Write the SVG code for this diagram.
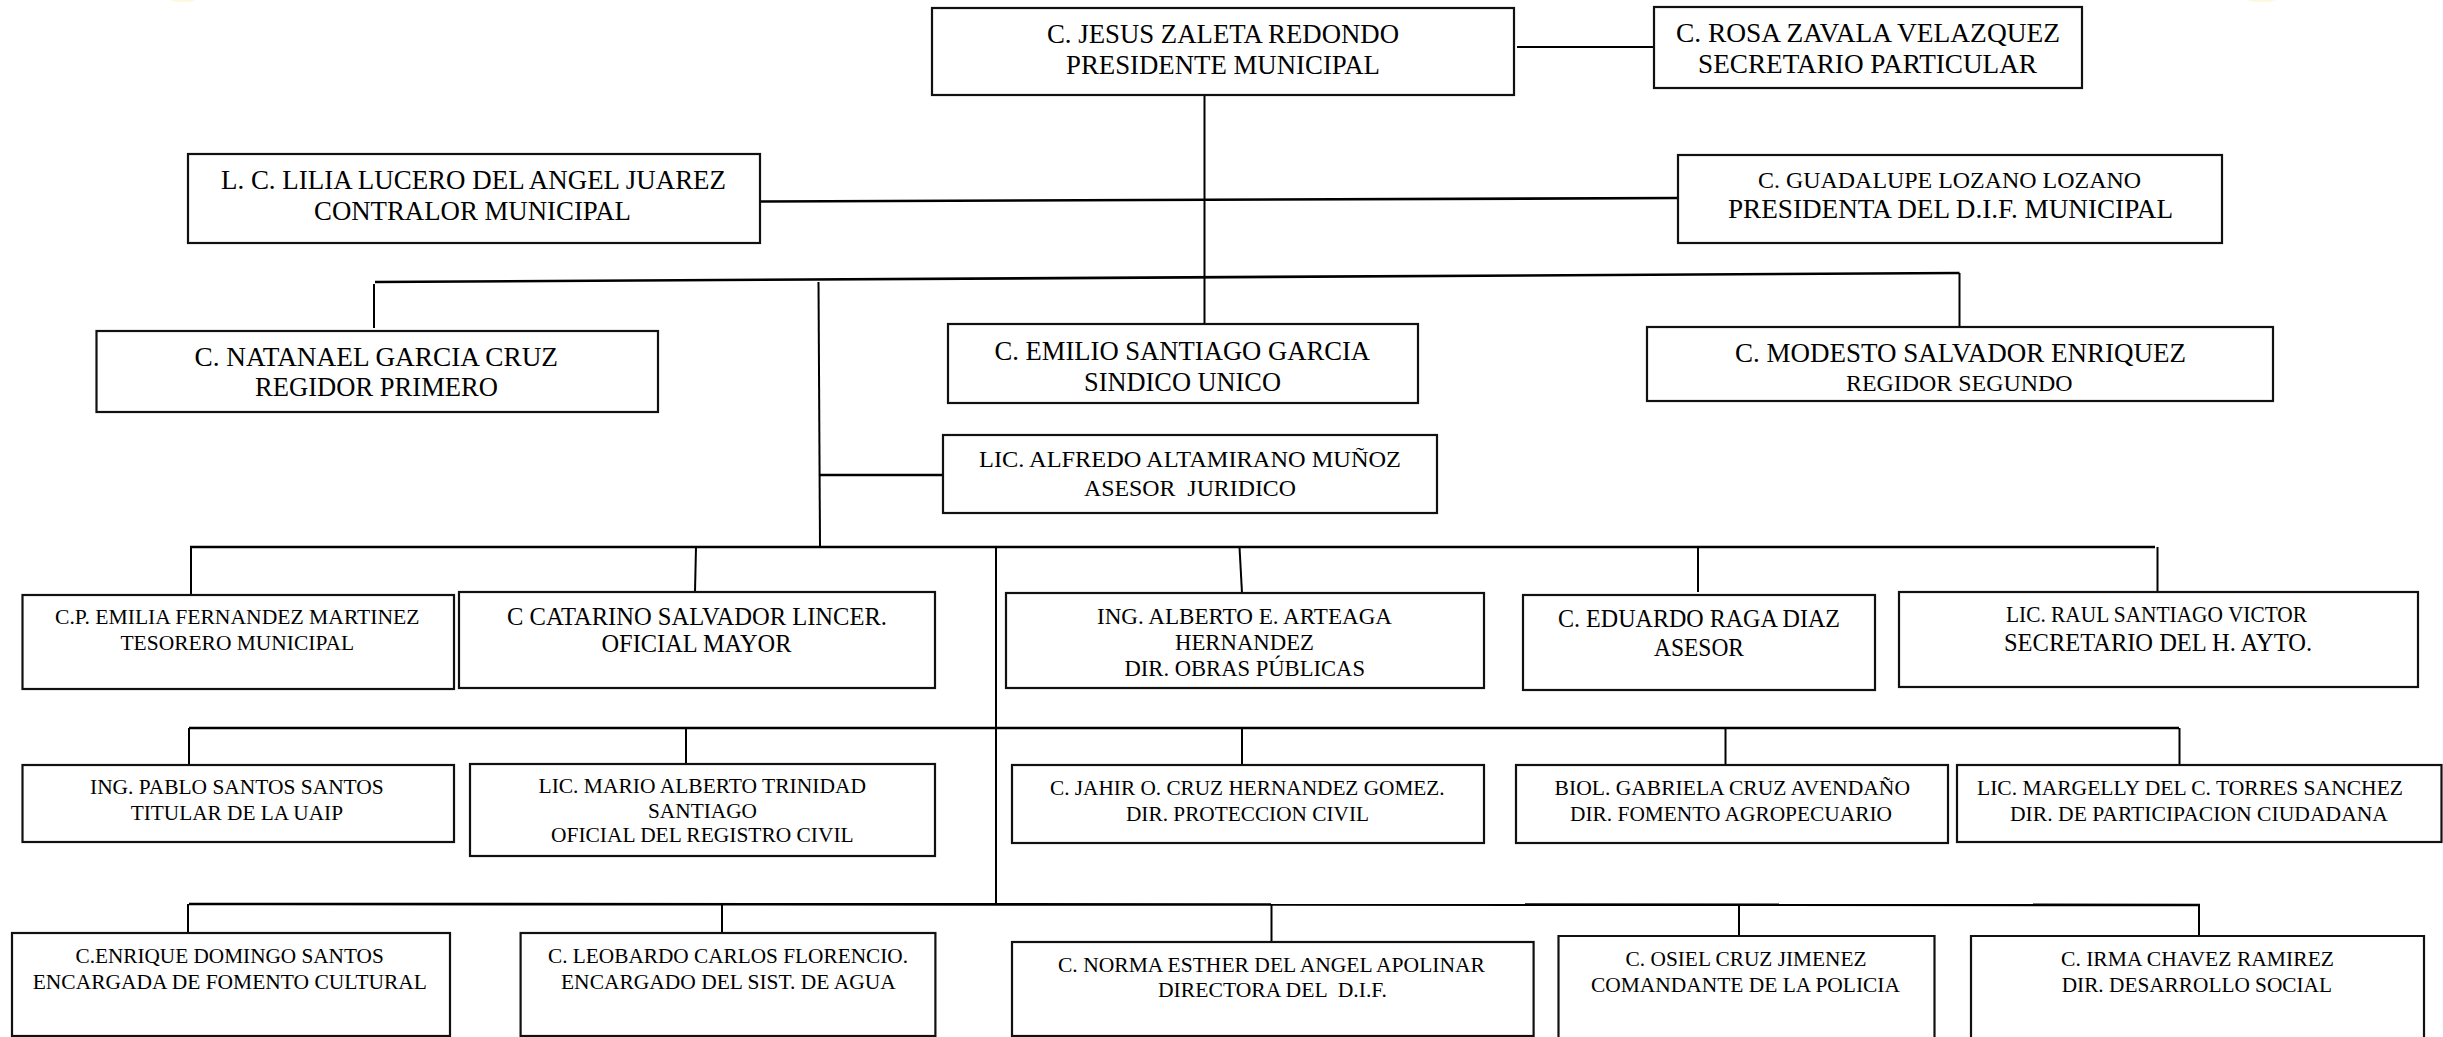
<svg xmlns="http://www.w3.org/2000/svg" width="2443" height="1037" viewBox="0 0 2443 1037">
<style>
text{font-family:"Liberation Serif","Times New Roman",serif;fill:#000;lengthAdjust:spacingAndGlyphs}
.b{fill:#fff;stroke:#111;stroke-width:2.2}
.l{fill:none;stroke:#000;stroke-width:2}
.t{stroke-width:2.6}
.f26{font-size:26.5px}.f25{font-size:25px}.f24{font-size:24px}.f23{font-size:23px}.f22{font-size:21.5px}
.g{fill:#fbf6cf;opacity:.7}
</style>
<rect width="2443" height="1037" fill="#fff"/>
<ellipse class="g" cx="183" cy="0" rx="12" ry="2"/>
<ellipse class="g" cx="2262" cy="0" rx="14" ry="2"/>
<g id="connectors">
<path class="l" d="M1204.500 95V324"/>
<path class="l" d="M1517 47H1654"/>
<path class="l t" d="M760 201.500L1678 198"/>
<path class="l t" d="M375 282L1959.500 273"/>
<path class="l" d="M374 284V328"/>
<path class="l" d="M1959.500 273V327"/>
<path class="l" d="M818.500 282L820 546"/>
<path class="l t" d="M820 475H945"/>
<path class="l t" d="M190 547H2155"/>
<path class="l" d="M191 547V595"/>
<path class="l" d="M696 547L695 592"/>
<path class="l" d="M996 547V904"/>
<path class="l" d="M1239.500 547L1242 593"/>
<path class="l" d="M1698 547V592"/>
<path class="l" d="M2157.500 547V592"/>
<path class="l t" d="M189 728H2179"/>
<path class="l" d="M189 728V765"/>
<path class="l" d="M686 728V764"/>
<path class="l" d="M1242 728V765"/>
<path class="l" d="M1725.500 728V765"/>
<path class="l" d="M2179.500 728V765"/>
<path class="l t" d="M189 904L2200 905"/>
<path class="l" d="M188 904V933"/>
<path class="l" d="M722 904V933"/>
<path class="l" d="M1271.500 905V942"/>
<path class="l" d="M1739 905V936"/>
<path class="l" d="M2199 905V936"/>
</g>
<g id="n-presidente"><rect class="b" x="932" y="8" width="582" height="87"/>
<text class="f26" x="1047" y="43" textLength="352" lengthAdjust="spacingAndGlyphs">C. JESUS ZALETA REDONDO</text>
<text class="f26" x="1066" y="74" textLength="314" lengthAdjust="spacingAndGlyphs">PRESIDENTE MUNICIPAL</text></g>
<g id="n-secretario-particular"><rect class="b" x="1654" y="7" width="428" height="81"/>
<text class="f26" x="1676" y="42" textLength="384" lengthAdjust="spacingAndGlyphs">C. ROSA ZAVALA VELAZQUEZ</text>
<text class="f26" x="1698" y="73" textLength="339" lengthAdjust="spacingAndGlyphs">SECRETARIO PARTICULAR</text></g>
<g id="n-contralor"><rect class="b" x="188" y="154" width="572" height="89"/>
<text class="f26" x="221" y="189" textLength="505" lengthAdjust="spacingAndGlyphs">L. C. LILIA LUCERO DEL ANGEL JUAREZ</text>
<text class="f26" x="314" y="220" textLength="317" lengthAdjust="spacingAndGlyphs">CONTRALOR MUNICIPAL</text></g>
<g id="n-dif-presidenta"><rect class="b" x="1678" y="155" width="544" height="88"/>
<text class="f24" x="1758" y="188" textLength="383" lengthAdjust="spacingAndGlyphs">C. GUADALUPE LOZANO LOZANO</text>
<text class="f26" x="1728" y="218" textLength="445" lengthAdjust="spacingAndGlyphs">PRESIDENTA DEL D.I.F. MUNICIPAL</text></g>
<g id="n-regidor-primero"><rect class="b" x="96.500" y="331" width="561.500" height="81"/>
<text class="f26" x="194.500" y="366" textLength="363.500" lengthAdjust="spacingAndGlyphs">C. NATANAEL GARCIA CRUZ</text>
<text class="f26" x="255" y="396" textLength="243" lengthAdjust="spacingAndGlyphs">REGIDOR PRIMERO</text></g>
<g id="n-sindico"><rect class="b" x="948" y="324" width="470" height="79"/>
<text class="f26" x="994.500" y="360" textLength="375.500" lengthAdjust="spacingAndGlyphs">C. EMILIO SANTIAGO GARCIA</text>
<text class="f26" x="1084" y="391" textLength="197" lengthAdjust="spacingAndGlyphs">SINDICO UNICO</text></g>
<g id="n-regidor-segundo"><rect class="b" x="1647" y="327" width="626" height="74"/>
<text class="f26" x="1735" y="362" textLength="451" lengthAdjust="spacingAndGlyphs">C. MODESTO SALVADOR ENRIQUEZ</text>
<text class="f24" x="1846" y="391" textLength="226.500" lengthAdjust="spacingAndGlyphs">REGIDOR SEGUNDO</text></g>
<g id="n-asesor-juridico"><rect class="b" x="943" y="435" width="494" height="78"/>
<text class="f24" x="979" y="467" textLength="422" lengthAdjust="spacingAndGlyphs">LIC. ALFREDO ALTAMIRANO MUÑOZ</text>
<text class="f24" x="1084" y="496" textLength="212" lengthAdjust="spacingAndGlyphs" xml:space="preserve">ASESOR  JURIDICO</text></g>
<g id="n-tesorero"><rect class="b" x="22.500" y="595" width="431.500" height="94"/>
<text class="f22" x="55" y="624" textLength="364.500" lengthAdjust="spacingAndGlyphs">C.P. EMILIA FERNANDEZ MARTINEZ</text>
<text class="f22" x="120.500" y="650" textLength="233.500" lengthAdjust="spacingAndGlyphs">TESORERO MUNICIPAL</text></g>
<g id="n-oficial-mayor"><rect class="b" x="459" y="592" width="476" height="96"/>
<text class="f25" x="507" y="625" textLength="380" lengthAdjust="spacingAndGlyphs">C CATARINO SALVADOR LINCER.</text>
<text class="f25" x="601.500" y="652" textLength="190" lengthAdjust="spacingAndGlyphs">OFICIAL MAYOR</text></g>
<g id="n-obras-publicas"><rect class="b" x="1006" y="593" width="478" height="95"/>
<text class="f23" x="1097" y="624" textLength="295" lengthAdjust="spacingAndGlyphs">ING. ALBERTO E. ARTEAGA</text>
<text class="f23" x="1175" y="650" textLength="139" lengthAdjust="spacingAndGlyphs">HERNANDEZ</text>
<text class="f23" x="1124.500" y="676" textLength="240.500" lengthAdjust="spacingAndGlyphs">DIR. OBRAS PÚBLICAS</text></g>
<g id="n-asesor"><rect class="b" x="1523" y="595" width="352" height="95"/>
<text class="f25" x="1558" y="627" textLength="282" lengthAdjust="spacingAndGlyphs">C. EDUARDO RAGA DIAZ</text>
<text class="f25" x="1654" y="656" textLength="90" lengthAdjust="spacingAndGlyphs">ASESOR</text></g>
<g id="n-secretario-ayto"><rect class="b" x="1899" y="592" width="519" height="95"/>
<text class="f23" x="2006" y="622" textLength="301" lengthAdjust="spacingAndGlyphs">LIC. RAUL SANTIAGO VICTOR</text>
<text class="f25" x="2004" y="651" textLength="308" lengthAdjust="spacingAndGlyphs">SECRETARIO DEL H. AYTO.</text></g>
<g id="n-uaip"><rect class="b" x="22.500" y="765" width="431.500" height="77"/>
<text class="f22" x="90" y="794" textLength="293.700" lengthAdjust="spacingAndGlyphs">ING. PABLO SANTOS SANTOS</text>
<text class="f22" x="130.700" y="820" textLength="212.300" lengthAdjust="spacingAndGlyphs">TITULAR DE LA UAIP</text></g>
<g id="n-registro-civil"><rect class="b" x="470" y="764" width="465" height="92"/>
<text class="f22" x="538.500" y="793" textLength="327.500" lengthAdjust="spacingAndGlyphs">LIC. MARIO ALBERTO TRINIDAD</text>
<text class="f22" x="648" y="818" textLength="109" lengthAdjust="spacingAndGlyphs">SANTIAGO</text>
<text class="f22" x="551" y="842" textLength="302.700" lengthAdjust="spacingAndGlyphs">OFICIAL DEL REGISTRO CIVIL</text></g>
<g id="n-proteccion-civil"><rect class="b" x="1012" y="765" width="472" height="78"/>
<text class="f22" x="1050" y="795" textLength="394.600" lengthAdjust="spacingAndGlyphs">C. JAHIR O. CRUZ HERNANDEZ GOMEZ.</text>
<text class="f22" x="1126" y="821" textLength="243" lengthAdjust="spacingAndGlyphs">DIR. PROTECCION CIVIL</text></g>
<g id="n-fomento-agropecuario"><rect class="b" x="1516" y="765" width="432" height="78"/>
<text class="f22" x="1554.600" y="795" textLength="355.400" lengthAdjust="spacingAndGlyphs">BIOL. GABRIELA CRUZ AVENDAÑO</text>
<text class="f22" x="1570" y="821" textLength="322" lengthAdjust="spacingAndGlyphs">DIR. FOMENTO AGROPECUARIO</text></g>
<g id="n-participacion-ciudadana"><rect class="b" x="1957" y="765" width="484.500" height="77"/>
<text class="f22" x="1977" y="795" textLength="426" lengthAdjust="spacingAndGlyphs">LIC. MARGELLY DEL C. TORRES SANCHEZ</text>
<text class="f22" x="2010" y="821" textLength="378" lengthAdjust="spacingAndGlyphs">DIR. DE PARTICIPACION CIUDADANA</text></g>
<g id="n-fomento-cultural"><rect class="b" x="12" y="933" width="438" height="103"/>
<text class="f22" x="75.500" y="963" textLength="308.200" lengthAdjust="spacingAndGlyphs">C.ENRIQUE DOMINGO SANTOS</text>
<text class="f22" x="32.700" y="989" textLength="394.300" lengthAdjust="spacingAndGlyphs">ENCARGADA DE FOMENTO CULTURAL</text></g>
<g id="n-agua"><rect class="b" x="520.600" y="933" width="414.800" height="103"/>
<text class="f22" x="548" y="963" textLength="360" lengthAdjust="spacingAndGlyphs">C. LEOBARDO CARLOS FLORENCIO.</text>
<text class="f22" x="561" y="989" textLength="334.700" lengthAdjust="spacingAndGlyphs">ENCARGADO DEL SIST. DE AGUA</text></g>
<g id="n-dif-directora"><rect class="b" x="1012" y="942" width="521.600" height="94"/>
<text class="f22" x="1058" y="972" textLength="427" lengthAdjust="spacingAndGlyphs">C. NORMA ESTHER DEL ANGEL APOLINAR</text>
<text class="f22" x="1158" y="997" textLength="229" lengthAdjust="spacingAndGlyphs" xml:space="preserve">DIRECTORA DEL  D.I.F.</text></g>
<g id="n-policia"><path class="b" d="M1558.500 1037V936H1934.500V1037"/>
<text class="f22" x="1625.600" y="966" textLength="241" lengthAdjust="spacingAndGlyphs">C. OSIEL CRUZ JIMENEZ</text>
<text class="f22" x="1591" y="992" textLength="309" lengthAdjust="spacingAndGlyphs">COMANDANTE DE LA POLICIA</text></g>
<g id="n-desarrollo-social"><path class="b" d="M1971 1037V936H2424V1037"/>
<text class="f22" x="2061" y="966" textLength="273" lengthAdjust="spacingAndGlyphs">C. IRMA CHAVEZ RAMIREZ</text>
<text class="f22" x="2061.700" y="992" textLength="270.300" lengthAdjust="spacingAndGlyphs">DIR. DESARROLLO SOCIAL</text></g>
</svg>
